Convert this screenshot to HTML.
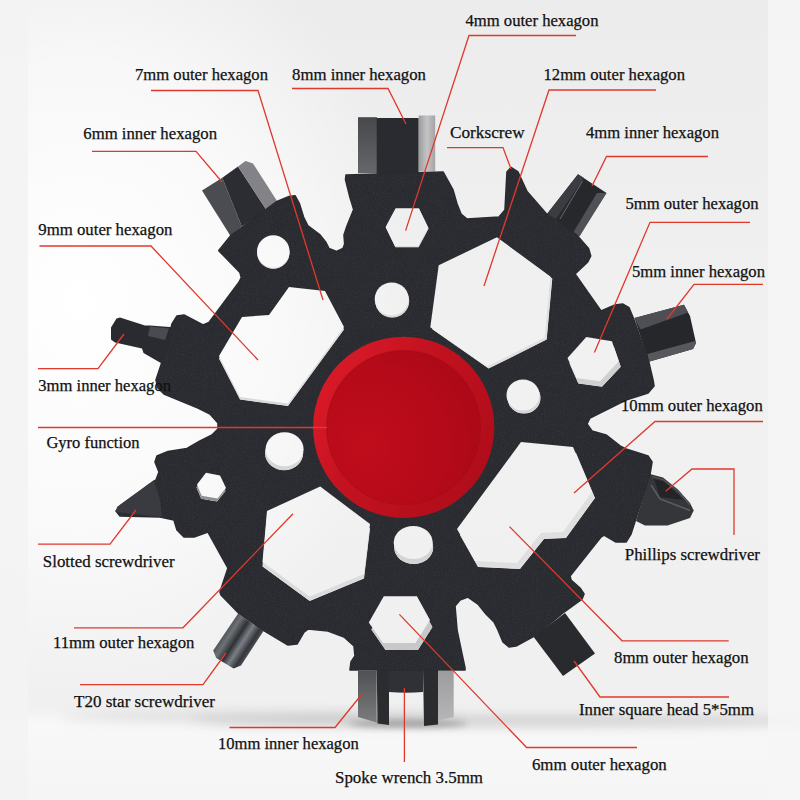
<!DOCTYPE html>
<html><head><meta charset="utf-8"><title>Snowflake multi-tool</title>
<style>
html,body{margin:0;padding:0;background:#efefef;}
body{width:800px;height:800px;overflow:hidden;}
svg{display:block;}
text{font-family:"Liberation Serif",serif;fill:#111;stroke:#111;stroke-width:0.25px;}
</style></head><body>
<svg width="800" height="800" viewBox="0 0 800 800">
<defs>
<linearGradient id="bg" x1="0" y1="0" x2="0" y2="1">
 <stop offset="0" stop-color="#ececec"/><stop offset="0.45" stop-color="#f1f1f1"/><stop offset="0.885" stop-color="#f0f0f0"/><stop offset="0.905" stop-color="#f8f8f8"/><stop offset="1" stop-color="#f5f5f5"/>
</linearGradient>
<radialGradient id="glow" cx="0" cy="0" r="1" gradientUnits="userSpaceOnUse" gradientTransform="translate(80,300) scale(330,400)">
 <stop offset="0" stop-color="#ffffff" stop-opacity="1"/><stop offset="0.6" stop-color="#ffffff" stop-opacity="0.6"/><stop offset="1" stop-color="#ffffff" stop-opacity="0"/>
</radialGradient>
<radialGradient id="red" cx="365" cy="445" r="140" gradientUnits="userSpaceOnUse">
 <stop offset="0" stop-color="#c00d1c"/><stop offset="0.55" stop-color="#b50a19"/><stop offset="1" stop-color="#a80816"/>
</radialGradient>
<linearGradient id="redring" x1="0" y1="0.2" x2="1" y2="0.8">
 <stop offset="0" stop-color="#dc1b29"/><stop offset="0.4" stop-color="#c41220"/><stop offset="1" stop-color="#ae0c19"/>
</linearGradient>
<linearGradient id="gTopL" x1="0" y1="0" x2="0" y2="1"><stop offset="0" stop-color="#47484c"/><stop offset="1" stop-color="#66676b"/></linearGradient>
<linearGradient id="gTopR" x1="0" y1="0" x2="1" y2="0"><stop offset="0" stop-color="#9c9c9e"/><stop offset="0.5" stop-color="#c4c4c5"/><stop offset="1" stop-color="#a4a4a6"/></linearGradient>
<linearGradient id="gBotL" x1="0" y1="0" x2="0" y2="1"><stop offset="0" stop-color="#505154"/><stop offset="1" stop-color="#7c7c7e"/></linearGradient>
<linearGradient id="gBotR" x1="0" y1="0" x2="0" y2="1"><stop offset="0" stop-color="#9c9c9e"/><stop offset="1" stop-color="#b6b6b8"/></linearGradient>
<linearGradient id="gT20" gradientUnits="userSpaceOnUse" x1="215" y1="640" x2="252" y2="664"><stop offset="0" stop-color="#3a3c41"/><stop offset="0.22" stop-color="#6e7277"/><stop offset="0.4" stop-color="#2e3034"/><stop offset="0.55" stop-color="#7b7f85"/><stop offset="0.72" stop-color="#33353a"/><stop offset="0.88" stop-color="#5c5f64"/><stop offset="1" stop-color="#33353a"/></linearGradient>
<filter id="blur6" x="-20%" y="-200%" width="140%" height="500%"><feGaussianBlur stdDeviation="6"/></filter>
<filter id="blur3" x="-20%" y="-200%" width="140%" height="500%"><feGaussianBlur stdDeviation="3"/></filter>
<filter id="grain" x="0" y="0" width="100%" height="100%">
 <feTurbulence type="fractalNoise" baseFrequency="0.9" numOctaves="2" seed="3" result="n"/>
 <feColorMatrix in="n" type="matrix" values="0 0 0 0 1  0 0 0 0 1  0 0 0 0 1  0.5 0.5 0 0 -0.42" result="a"/>
 <feComposite in="a" in2="SourceGraphic" operator="in"/>
</filter>
</defs>
<rect width="800" height="800" fill="url(#bg)"/>
<rect width="800" height="800" fill="url(#glow)"/>
<ellipse cx="520" cy="721" rx="330" ry="5" fill="#8a8a8a" opacity="0.42" filter="url(#blur6)"/>
<ellipse cx="260" cy="717" rx="200" ry="3.5" fill="#8a8a8a" opacity="0.33" filter="url(#blur6)"/>
<ellipse cx="408" cy="724" rx="60" ry="3.5" fill="#555" opacity="0.45" filter="url(#blur3)"/>
<rect x="0" y="0" width="28" height="800" fill="#f3f3f3" opacity="0.9"/>
<rect x="768" y="0" width="32" height="800" fill="#f6f6f6" opacity="0.85"/>
<rect x="358" y="117.2" width="19" height="56" fill="url(#gTopL)"/>
<rect x="376.7" y="118" width="42" height="56" fill="#2a2b30"/>
<rect x="418.7" y="115.5" width="16.5" height="56" fill="url(#gTopR)"/>
<polygon points="358,671 376.7,671 376.7,722.5 358,717" fill="url(#gBotL)"/>
<polygon points="376.7,668 389,668 389,725 377.5,723.5" fill="#2b2c30"/>
<path d="M389,668 L423,668 L423,692 Q406,693.5 389,692 Z" fill="#303136"/>
<polygon points="423,668 438,668 438,724.5 424,726" fill="#2b2c30"/>
<polygon points="438,671 453.7,671 453.7,717 438,720.5" fill="url(#gBotR)"/>
<polygon points="202,190.5 222.3,177.8 241.8,226.5 230.5,236" fill="#4b4c51"/>
<polygon points="222.3,177.8 238,166.5 266.5,210 241.8,226.5" fill="#2c2d32"/>
<polygon points="238,166.5 245.5,161 253,163.5 277,201 266.5,210" fill="#828287"/>
<polygon points="547,214 578,174.3 606.5,193 578,236.5" fill="#27282c"/>
<polygon points="547,214 578,174.3 584,178 556,219" fill="#3b3c41"/>
<polyline points="582.5,181 560,219" stroke="#777980" stroke-width="0.8" fill="none"/>
<polygon points="597,193 606.5,193 579.5,236.5 573.5,232" fill="#505156"/>
<polygon points="634.5,318 684,304.7 690,316 696,343 693,349 648.7,361.7" fill="#26272b"/>
<polygon points="634.5,318 684,304.7 688,312.5 640.5,329.5" fill="#4e4f54"/>
<polygon points="647.5,354 695,341 696,343 693,349 648.7,361.7" fill="#57585c"/>
<path d="M650,474 L663,477.5 L678,489.5 L690,503 L693.7,510.5 L690,518 L667.5,525.5 L645,525.5 L636,521 Z" fill="#35363a"/>
<path d="M654,479 L664,481.5 L684,500 L660,497 Z" fill="#232428"/>
<path d="M651,485 L660,499 L690,510.5" fill="none" stroke="#5e5f64" stroke-width="1.4"/>
<path d="M652,476.5 L663,479.5 L678,491 L690,505" fill="none" stroke="#55565b" stroke-width="1.2"/>
<polygon points="565,613 595,653.5 563,676 533.7,637" fill="#292a2e"/>
<polygon points="238,613.7 213.2,650.5 216.2,658 233.5,668.5 241,665.5 263.5,631" fill="url(#gT20)"/>
<polygon points="116.5,318.5 120,317.5 145,325.5 150,325.5 176,327.5 166,366 143.5,353 142,348.5 115,342.5 111,339.5 111,327.5" fill="#2a2b30"/>
<polygon points="150,326.5 169,328.5 165,340 148,336" fill="#4a4b50"/>
<mask id="bodym" maskUnits="userSpaceOnUse" x="0" y="0" width="800" height="800"><rect width="800" height="800" fill="#fff"/><polygon points="385.6,227 395.6,208.3 418.8,208.3 428.1,227.5 418.1,246.3 395,246.3" fill="#000"/><polygon points="386.1,228 396.1,209.3 419.3,209.3 428.6,228.5 418.6,247.3 395.5,247.3" fill="#000"/><polygon points="496.9,237.2 438.7,265.3 430.3,327.2 486.6,366.6 544.7,337.5 550.3,276.6" fill="#000"/><polygon points="498.9,239.2 440.7,267.3 432.3,329.2 488.6,368.6 546.7,339.5 552.3,278.6" fill="#000"/><polygon points="567.5,358 586.3,337 611.9,341.3 618.8,361.3 600,381.3 576.3,378" fill="#000"/><polygon points="569.5,363.5 588.3,342.5 613.9,346.8 620.8,366.8 602,386.8 578.3,383.5" fill="#000"/><polygon points="521,442 573,447 592,492 563,532 541,533 517,563 475,561 457,529" fill="#000"/><polygon points="524,448 576,453 595,498 566,538 544,539 520,569 478,567 460,535" fill="#000"/><polygon points="368.8,622.5 383.8,596.3 416.9,596.3 430,620 415.5,643 383,643" fill="#000"/><polygon points="371.3,629.5 386.3,603.3 419.4,603.3 432.5,627 418.0,650 385.5,650" fill="#000"/><polygon points="320.2,486.6 267,511 262.5,562 309.7,596.5 364,574 370,524" fill="#000"/><polygon points="320.2,491.1 267,515.5 262.5,566.5 309.7,601.0 364,578.5 370,528.5" fill="#000"/><polygon points="197,484.5 206,472.8 220,475.5 226,488 217.5,498.5 201.7,495.7" fill="#000"/><polygon points="196.5,487.5 205.5,475.8 219.5,478.5 225.5,491 217.0,501.5 201.2,498.7" fill="#000"/><polygon points="219,356 242,317 269,315 289,287 325,291 344,327 288,403.5 240,397" fill="#000"/><polygon points="219,358.5 242,319.5 269,317.5 289,289.5 325,293.5 344,329.5 288,406.0 240,399.5" fill="#000"/><ellipse cx="273.3" cy="251.5" rx="16.2" ry="16.3" fill="#000"/><ellipse cx="273.3" cy="252.5" rx="16.2" ry="16.3" fill="#000"/><ellipse cx="391.7" cy="299" rx="17" ry="16.5" fill="#000"/><ellipse cx="392.2" cy="301" rx="17" ry="16.5" fill="#000"/><ellipse cx="523" cy="395" rx="16.5" ry="15.5" fill="#000"/><ellipse cx="524" cy="398" rx="16.5" ry="15.5" fill="#000"/><ellipse cx="413.2" cy="542.5" rx="19.5" ry="16.5" fill="#000"/><ellipse cx="413.7" cy="547.5" rx="19.5" ry="16.5" fill="#000"/><ellipse cx="284.6" cy="449.3" rx="19" ry="17" fill="#000"/><ellipse cx="284.1" cy="453.3" rx="19" ry="17" fill="#000"/></mask>
<g mask="url(#bodym)">
<path d="M346,175 L443,172 L453,190 L457,204 L461,214 L467,219 L499,217 L505,210 L507,172 L511,167.5 L518,172 L527,191.5 L547,214.5 L578,236.5 L588.5,248.5 L590.7,256 L587.7,262 L575,274 L601,311 L615,305 L622.5,304 L629,307.7 L633.7,319 L648.7,361.7 L653,380 L654,386 L648,393 L626,400 L600,413 L590,418 L587,424 L592,431 L606,435 L620,446 L626,449 L648,456 L652,462 L650,474 L638,512 L631,534 L626,542 L616,542 L604,535 L601,537 L570,576 L571,580 L580,588 L584,594 L582,599 L564,612 L538,634 L516,646 L509,647 L503,642 L498,630 L494,622 L486,614 L478,604 L468,597 L460,600 L455,606 L457,630 L462,654 L465,668 L465,670 L350,670 L351,662 L355,656 L354,646 L344,637 L328,631 L308,629 L304,632 L297,644 L288,645 L263,630 L238.5,613 L221,595 L220,592 L222,586 L228,568 L208,532 L194,537 L184,537 L177,530 L174,520 L160,517 L120,516 L116,511 L120,506 L156,480 L159,472 L155,462 L157,456 L168,451.5 L187,448.5 L200,441 L212,435 L218,429 L218,423 L210,414 L198,408 L164,394 L158,388 L156,380 L166,350 L172,324 L177,316 L184,315 L203,325 L209,322.5 L238.8,282.5 L241.3,277.5 L240,272.5 L218.8,250.6 L230.5,236 L277,201.5 L289,196.5 L295,195.7 L299.5,204 L303.5,217 L308,226 L320,235 L326,242.5 L329,248.5 L336.5,251.5 L343,248.5 L344.7,244 L344,235 L347,226 L353.7,209.5 L350,197.5 L345.5,179.5 Z" fill="#292a2f" stroke="#292a2f" stroke-width="1.6" stroke-linejoin="round"/>
<path d="M346,175 L443,172 L453,190 L457,204 L461,214 L467,219 L499,217 L505,210 L507,172 L511,167.5 L518,172 L527,191.5 L547,214.5 L578,236.5 L588.5,248.5 L590.7,256 L587.7,262 L575,274 L601,311 L615,305 L622.5,304 L629,307.7 L633.7,319 L648.7,361.7 L653,380 L654,386 L648,393 L626,400 L600,413 L590,418 L587,424 L592,431 L606,435 L620,446 L626,449 L648,456 L652,462 L650,474 L638,512 L631,534 L626,542 L616,542 L604,535 L601,537 L570,576 L571,580 L580,588 L584,594 L582,599 L564,612 L538,634 L516,646 L509,647 L503,642 L498,630 L494,622 L486,614 L478,604 L468,597 L460,600 L455,606 L457,630 L462,654 L465,668 L465,670 L350,670 L351,662 L355,656 L354,646 L344,637 L328,631 L308,629 L304,632 L297,644 L288,645 L263,630 L238.5,613 L221,595 L220,592 L222,586 L228,568 L208,532 L194,537 L184,537 L177,530 L174,520 L160,517 L120,516 L116,511 L120,506 L156,480 L159,472 L155,462 L157,456 L168,451.5 L187,448.5 L200,441 L212,435 L218,429 L218,423 L210,414 L198,408 L164,394 L158,388 L156,380 L166,350 L172,324 L177,316 L184,315 L203,325 L209,322.5 L238.8,282.5 L241.3,277.5 L240,272.5 L218.8,250.6 L230.5,236 L277,201.5 L289,196.5 L295,195.7 L299.5,204 L303.5,217 L308,226 L320,235 L326,242.5 L329,248.5 L336.5,251.5 L343,248.5 L344.7,244 L344,235 L347,226 L353.7,209.5 L350,197.5 L345.5,179.5 Z" fill="#292a2f" filter="url(#grain)" opacity="0.15"/>
</g>
<mask id="bv_h4" maskUnits="userSpaceOnUse" x="0" y="0" width="800" height="800"><polygon points="386.1,228 396.1,209.3 419.3,209.3 428.6,228.5 418.6,247.3 395.5,247.3" fill="#fff"/><polygon points="385.6,227 395.6,208.3 418.8,208.3 428.1,227.5 418.1,246.3 395,246.3" fill="#000"/></mask>
<polygon points="386.1,228 396.1,209.3 419.3,209.3 428.6,228.5 418.6,247.3 395.5,247.3" fill="#d8d8d9" mask="url(#bv_h4)"/>
<mask id="bv_h12" maskUnits="userSpaceOnUse" x="0" y="0" width="800" height="800"><polygon points="498.9,239.2 440.7,267.3 432.3,329.2 488.6,368.6 546.7,339.5 552.3,278.6" fill="#fff"/><polygon points="496.9,237.2 438.7,265.3 430.3,327.2 486.6,366.6 544.7,337.5 550.3,276.6" fill="#000"/></mask>
<polygon points="498.9,239.2 440.7,267.3 432.3,329.2 488.6,368.6 546.7,339.5 552.3,278.6" fill="#e0e0e1" mask="url(#bv_h12)"/>
<mask id="bv_h5" maskUnits="userSpaceOnUse" x="0" y="0" width="800" height="800"><polygon points="569.5,363.5 588.3,342.5 613.9,346.8 620.8,366.8 602,386.8 578.3,383.5" fill="#fff"/><polygon points="567.5,358 586.3,337 611.9,341.3 618.8,361.3 600,381.3 576.3,378" fill="#000"/></mask>
<polygon points="569.5,363.5 588.3,342.5 613.9,346.8 620.8,366.8 602,386.8 578.3,383.5" fill="#d0d0d1" mask="url(#bv_h5)"/>
<mask id="bv_h108" maskUnits="userSpaceOnUse" x="0" y="0" width="800" height="800"><polygon points="524,448 576,453 595,498 566,538 544,539 520,569 478,567 460,535" fill="#fff"/><polygon points="521,442 573,447 592,492 563,532 541,533 517,563 475,561 457,529" fill="#000"/></mask>
<polygon points="524,448 576,453 595,498 566,538 544,539 520,569 478,567 460,535" fill="#dfdfe0" mask="url(#bv_h108)"/>
<mask id="bv_h6" maskUnits="userSpaceOnUse" x="0" y="0" width="800" height="800"><polygon points="371.3,629.5 386.3,603.3 419.4,603.3 432.5,627 418.0,650 385.5,650" fill="#fff"/><polygon points="368.8,622.5 383.8,596.3 416.9,596.3 430,620 415.5,643 383,643" fill="#000"/></mask>
<polygon points="371.3,629.5 386.3,603.3 419.4,603.3 432.5,627 418.0,650 385.5,650" fill="#c8c8c9" mask="url(#bv_h6)"/>
<mask id="bv_h11" maskUnits="userSpaceOnUse" x="0" y="0" width="800" height="800"><polygon points="320.2,491.1 267,515.5 262.5,566.5 309.7,601.0 364,578.5 370,528.5" fill="#fff"/><polygon points="320.2,486.6 267,511 262.5,562 309.7,596.5 364,574 370,524" fill="#000"/></mask>
<polygon points="320.2,491.1 267,515.5 262.5,566.5 309.7,601.0 364,578.5 370,528.5" fill="#dcdcdd" mask="url(#bv_h11)"/>
<mask id="bv_hs" maskUnits="userSpaceOnUse" x="0" y="0" width="800" height="800"><polygon points="196.5,487.5 205.5,475.8 219.5,478.5 225.5,491 217.0,501.5 201.2,498.7" fill="#fff"/><polygon points="197,484.5 206,472.8 220,475.5 226,488 217.5,498.5 201.7,495.7" fill="#000"/></mask>
<polygon points="196.5,487.5 205.5,475.8 219.5,478.5 225.5,491 217.0,501.5 201.2,498.7" fill="#8f918f" mask="url(#bv_hs)"/>
<mask id="bv_h97" maskUnits="userSpaceOnUse" x="0" y="0" width="800" height="800"><polygon points="219,358.5 242,319.5 269,317.5 289,289.5 325,293.5 344,329.5 288,406.0 240,399.5" fill="#fff"/><polygon points="219,356 242,317 269,315 289,287 325,291 344,327 288,403.5 240,397" fill="#000"/></mask>
<polygon points="219,358.5 242,319.5 269,317.5 289,289.5 325,293.5 344,329.5 288,406.0 240,399.5" fill="#dadadb" mask="url(#bv_h97)"/>
<mask id="bv_c0" maskUnits="userSpaceOnUse" x="0" y="0" width="800" height="800"><ellipse cx="273.3" cy="252.5" rx="16.2" ry="16.3" fill="#fff"/><ellipse cx="273.3" cy="251.5" rx="16.2" ry="16.3" fill="#000"/></mask>
<ellipse cx="273.3" cy="252.5" rx="16.2" ry="16.3" fill="#d8d8d9" mask="url(#bv_c0)"/>
<mask id="bv_c1" maskUnits="userSpaceOnUse" x="0" y="0" width="800" height="800"><ellipse cx="392.2" cy="301" rx="17" ry="16.5" fill="#fff"/><ellipse cx="391.7" cy="299" rx="17" ry="16.5" fill="#000"/></mask>
<ellipse cx="392.2" cy="301" rx="17" ry="16.5" fill="#d8d8d9" mask="url(#bv_c1)"/>
<mask id="bv_c2" maskUnits="userSpaceOnUse" x="0" y="0" width="800" height="800"><ellipse cx="524" cy="398" rx="16.5" ry="15.5" fill="#fff"/><ellipse cx="523" cy="395" rx="16.5" ry="15.5" fill="#000"/></mask>
<ellipse cx="524" cy="398" rx="16.5" ry="15.5" fill="#d6d6d7" mask="url(#bv_c2)"/>
<mask id="bv_c3" maskUnits="userSpaceOnUse" x="0" y="0" width="800" height="800"><ellipse cx="413.7" cy="547.5" rx="19.5" ry="16.5" fill="#fff"/><ellipse cx="413.2" cy="542.5" rx="19.5" ry="16.5" fill="#000"/></mask>
<ellipse cx="413.7" cy="547.5" rx="19.5" ry="16.5" fill="#d4d4d5" mask="url(#bv_c3)"/>
<mask id="bv_c4" maskUnits="userSpaceOnUse" x="0" y="0" width="800" height="800"><ellipse cx="284.1" cy="453.3" rx="19" ry="17" fill="#fff"/><ellipse cx="284.6" cy="449.3" rx="19" ry="17" fill="#000"/></mask>
<ellipse cx="284.1" cy="453.3" rx="19" ry="17" fill="#d6d6d7" mask="url(#bv_c4)"/>
<polygon points="116,512 117,507 154,480 160,500 162,517" fill="#3a3b40"/>
<circle cx="403.7" cy="427.3" r="90.6" fill="url(#redring)"/>
<circle cx="403.5" cy="427.5" r="77" fill="url(#red)" stroke="#9a0b15" stroke-opacity="0.45" stroke-width="1"/>
<polyline points="151,90.5 258,90.5 323,300" fill="none" stroke="#e0392c" stroke-width="1.3"/>
<polyline points="292,88.5 388,88.5 406,124" fill="none" stroke="#e0392c" stroke-width="1.3"/>
<polyline points="576,35.5 469,35.5 405.6,230.6" fill="none" stroke="#e0392c" stroke-width="1.3"/>
<polyline points="656,90 549,90 484,286" fill="none" stroke="#e0392c" stroke-width="1.3"/>
<polyline points="92,151.3 196,151.3 222,182" fill="none" stroke="#e0392c" stroke-width="1.3"/>
<polyline points="447,147.6 503,147.6 511,169" fill="none" stroke="#e0392c" stroke-width="1.3"/>
<polyline points="708,156.5 606.5,156.5 592,186" fill="none" stroke="#e0392c" stroke-width="1.3"/>
<polyline points="750,222.3 650,222.3 594.4,352.5" fill="none" stroke="#e0392c" stroke-width="1.3"/>
<polyline points="39.5,246 151,246 258,360" fill="none" stroke="#e0392c" stroke-width="1.3"/>
<polyline points="763,284.4 694,284.4 667,319" fill="none" stroke="#e0392c" stroke-width="1.3"/>
<polyline points="38,368.7 98,368.7 124,334" fill="none" stroke="#e0392c" stroke-width="1.3"/>
<polyline points="763,421.5 655,421.5 574,493" fill="none" stroke="#e0392c" stroke-width="1.3"/>
<polyline points="38,427.5 327,427.5" fill="none" stroke="#e0392c" stroke-width="1.3"/>
<polyline points="38,544.2 110,544.2 136,510" fill="none" stroke="#e0392c" stroke-width="1.3"/>
<polyline points="665.7,491.3 692,469 734,469 734,535" fill="none" stroke="#e0392c" stroke-width="1.3"/>
<polyline points="74,627.8 183,627.8 293,513.7" fill="none" stroke="#e0392c" stroke-width="1.3"/>
<polyline points="728.7,640.8 622,640.8 509.5,526.6" fill="none" stroke="#e0392c" stroke-width="1.3"/>
<polyline points="80,684.7 203,684.7 226,653" fill="none" stroke="#e0392c" stroke-width="1.3"/>
<polyline points="729,697 600,697 574,661" fill="none" stroke="#e0392c" stroke-width="1.3"/>
<polyline points="229.5,727.5 335,727.5 362,694" fill="none" stroke="#e0392c" stroke-width="1.3"/>
<polyline points="637,747.5 526.6,747.5 399.4,614.4" fill="none" stroke="#e0392c" stroke-width="1.3"/>
<polyline points="404.4,688 404.4,762" fill="none" stroke="#e0392c" stroke-width="1.3"/>
<text x="135" y="80.3" font-size="16.7" textLength="133" lengthAdjust="spacingAndGlyphs">7mm outer hexagon</text>
<text x="292" y="80.3" font-size="16.7" textLength="134" lengthAdjust="spacingAndGlyphs">8mm inner hexagon</text>
<text x="465.5" y="25.9" font-size="16.7" textLength="133.0" lengthAdjust="spacingAndGlyphs">4mm outer hexagon</text>
<text x="543.5" y="79.6" font-size="16.7" textLength="141.5" lengthAdjust="spacingAndGlyphs">12mm outer hexagon</text>
<text x="83.3" y="139.4" font-size="16.7" textLength="133.7" lengthAdjust="spacingAndGlyphs">6mm inner hexagon</text>
<text x="450" y="138.1" font-size="16.7" textLength="74.6" lengthAdjust="spacingAndGlyphs">Corkscrew</text>
<text x="586" y="138.1" font-size="16.7" textLength="133" lengthAdjust="spacingAndGlyphs">4mm inner hexagon</text>
<text x="625.4" y="209.2" font-size="16.7" textLength="133.2" lengthAdjust="spacingAndGlyphs">5mm outer hexagon</text>
<text x="38.3" y="235.1" font-size="16.7" textLength="134.1" lengthAdjust="spacingAndGlyphs">9mm outer hexagon</text>
<text x="632" y="276.8" font-size="16.7" textLength="133" lengthAdjust="spacingAndGlyphs">5mm inner hexagon</text>
<text x="38.3" y="390.9" font-size="16.7" textLength="132.7" lengthAdjust="spacingAndGlyphs">3mm inner hexagon</text>
<text x="621" y="411.4" font-size="16.7" textLength="141.8" lengthAdjust="spacingAndGlyphs">10mm outer hexagon</text>
<text x="46.4" y="447.5" font-size="16.7" textLength="93.1" lengthAdjust="spacingAndGlyphs">Gyro function</text>
<text x="42.8" y="566.7" font-size="16.7" textLength="131.8" lengthAdjust="spacingAndGlyphs">Slotted screwdriver</text>
<text x="624.8" y="560.3" font-size="16.7" textLength="135.2" lengthAdjust="spacingAndGlyphs">Phillips screwdriver</text>
<text x="53" y="648.2" font-size="16.7" textLength="141.4" lengthAdjust="spacingAndGlyphs">11mm outer hexagon</text>
<text x="614" y="663.3" font-size="16.7" textLength="134.7" lengthAdjust="spacingAndGlyphs">8mm outer hexagon</text>
<text x="74" y="706.9" font-size="16.7" textLength="141" lengthAdjust="spacingAndGlyphs">T20 star screwdriver</text>
<text x="579" y="714.7" font-size="16.7" textLength="175" lengthAdjust="spacingAndGlyphs">Inner square head 5*5mm</text>
<text x="218" y="749.0" font-size="16.7" textLength="140.7" lengthAdjust="spacingAndGlyphs">10mm inner hexagon</text>
<text x="531.9" y="769.5" font-size="16.7" textLength="134.9" lengthAdjust="spacingAndGlyphs">6mm outer hexagon</text>
<text x="335" y="783.3" font-size="16.7" textLength="148" lengthAdjust="spacingAndGlyphs">Spoke wrench 3.5mm</text>
</svg>
</body></html>
